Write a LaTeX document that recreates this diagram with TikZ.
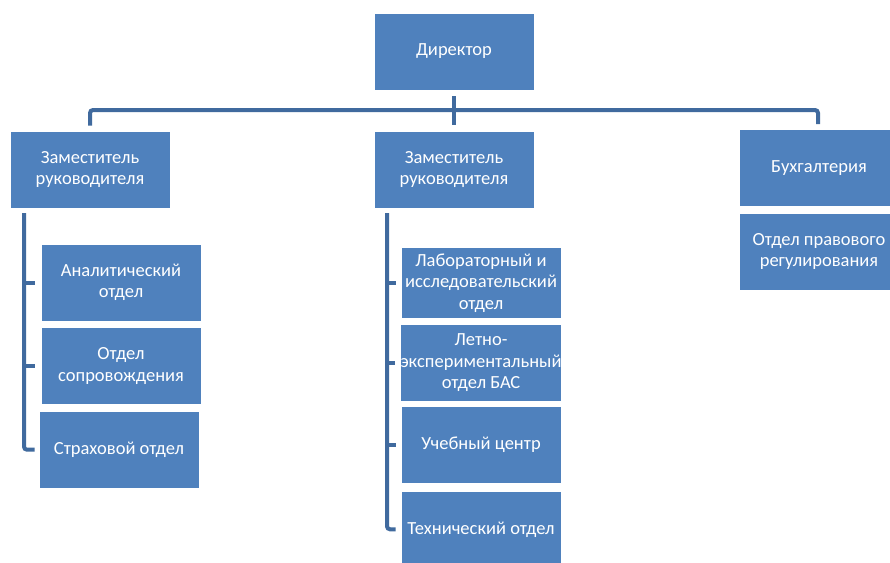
\documentclass[tikz,border=0pt]{standalone}
\usepackage{fontspec}
\setmainfont{Carlito}
\usetikzlibrary{positioning}
\definecolor{boxblue}{RGB}{79,129,189}
\definecolor{lineblue}{RGB}{64,106,158}

\begin{document}
\begin{tikzpicture}[x=1pt, y=-1pt, node distance=5pt,
    unit/.style = {fill=boxblue, draw=white, line width=0.6pt, text=white,
      minimum width=160pt, minimum height=77pt, inner xsep=0pt, align=center,
      font=\fontsize{18.5}{21.5}\selectfont},
    conn/.style = {draw=lineblue, line width=4pt, rounded corners=3pt}]
    \clip (0,0) rectangle (890,562);
    \fill[white] (0,0) rectangle (890,562);
    % top level
    \node[unit] (dir) at (454,51.5) {Директор};
    \node[unit] (dep1) at (90,169.5) {Заместитель\\руководителя};
    \node[unit] (dep2) at (454,169.5) {Заместитель\\руководителя};
    \node[unit] (bukh) at (819,168) {Бухгалтерия};
    \node[unit, below=6pt of bukh] (law) {Отдел правового\\регулирования};
    % left column
    \node[unit] (anal) at (121,282.5) {Аналитический\\отдел};
    \node[unit, below=6pt of anal] (escort) {Отдел\\сопровождения};
    \node[unit, below=6pt of escort, xshift=-2pt] (insur) {Страховой отдел};
    % middle column
    \node[unit, minimum height=71pt] (lab) at (481,283) {Лабораторный и\\исследовательский\\отдел};
    \node[unit, below=of lab] (flight) {Летно-\\экспериментальный\\отдел БАС};
    \node[unit, below=of flight] (study) {Учебный центр};
    \node[unit, below=6.5pt of study] (tech) {Технический отдел};
    % bus
    \coordinate (bus) at (454,110);
    \draw[conn, rounded corners=0pt] ([yshift=-6pt]dir.south) -- ([yshift=6pt]dep2.north);
    \draw[conn] ([yshift=5pt]dep1.north) |- (bus);
    \draw[conn] (bus) -| ([xshift=-1pt, yshift=5pt]bukh.north);
    % brackets
    \coordinate (b1) at (24,213);
    \coordinate (b2) at (387,213);
    \draw[conn] (b1) |- ([xshift=-4pt]insur.west);
    \draw[conn] (anal.west -| b1) -- ([xshift=-6pt]anal.west);
    \draw[conn] (escort.west -| b1) -- ([xshift=-6pt]escort.west);
    \draw[conn] (b2) |- ([xshift=-5pt]tech.west);
    \draw[conn] (lab.west -| b2) -- ([xshift=-5pt]lab.west);
    \draw[conn] (flight.west -| b2) -- ([xshift=-5pt]flight.west);
    \draw[conn] (study.west -| b2) -- ([xshift=-5pt]study.west);
\end{tikzpicture}
\end{document}
